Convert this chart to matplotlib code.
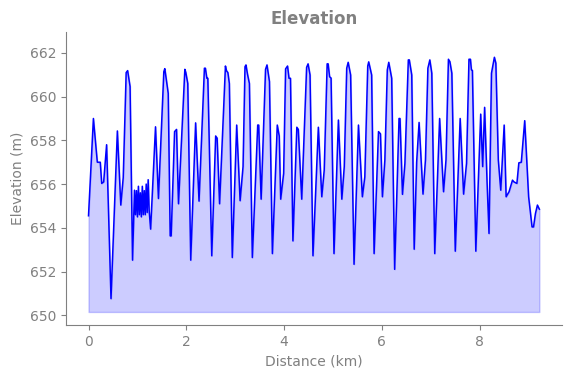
import matplotlib
matplotlib.use("Agg")
import matplotlib.pyplot as plt

# distance along the route (km) and elevation (m)
distance_km = [
    0.00, 0.10, 0.18, 0.24, 0.27, 0.31, 0.37, 0.46, 0.59, 0.66, 0.71, 0.77, 0.80, 0.85, 0.90, 0.94,
    0.96, 0.98, 1.00, 1.02, 1.04, 1.06, 1.08, 1.10, 1.12, 1.14, 1.16, 1.18, 1.20, 1.22, 1.24,
    1.27, 1.37, 1.43, 1.54, 1.56, 1.59, 1.63, 1.67, 1.69, 1.76, 1.80, 1.84, 1.97, 1.99, 2.03,
    2.09, 2.19, 2.26, 2.37, 2.39, 2.42, 2.44, 2.52, 2.60, 2.63, 2.68, 2.80, 2.82, 2.85, 2.88,
    2.94, 3.03, 3.10, 3.16, 3.20, 3.22, 3.25, 3.29, 3.35, 3.46, 3.48, 3.53, 3.62, 3.65, 3.70,
    3.76, 3.86, 3.90, 3.93, 3.99, 4.03, 4.07, 4.10, 4.13, 4.18, 4.26, 4.29, 4.36, 4.46, 4.49,
    4.53, 4.59, 4.70, 4.77, 4.82, 4.88, 4.90, 4.93, 4.96, 5.02, 5.11, 5.18, 5.23, 5.28, 5.31,
    5.36, 5.43, 5.52, 5.60, 5.65, 5.71, 5.73, 5.79, 5.84, 5.93, 5.97, 6.01, 6.06, 6.11, 6.14,
    6.20, 6.26, 6.35, 6.37, 6.42, 6.47, 6.54, 6.56, 6.61, 6.66, 6.71, 6.76, 6.84, 6.89, 6.94,
    6.98, 7.02, 7.08, 7.18, 7.26, 7.31, 7.36, 7.39, 7.43, 7.50, 7.60, 7.67, 7.73, 7.78, 7.81,
    7.83, 7.85, 7.92, 8.02, 8.06, 8.10, 8.15, 8.19, 8.24, 8.30, 8.33, 8.38, 8.43, 8.50, 8.54,
    8.60, 8.67, 8.70, 8.76, 8.80, 8.85, 8.92, 9.00, 9.07, 9.10, 9.14, 9.18, 9.22,
]
elevation_m = [
    654.55, 659.0, 657.0, 657.0, 656.03, 656.1, 657.8, 650.76, 658.43, 655.04, 656.3, 661.1, 661.19, 660.46, 652.52, 655.72,
    654.6, 655.7, 654.5, 655.9, 654.6, 655.6, 654.5, 655.9, 654.6, 655.7, 654.6, 656.0, 654.7, 656.2, 654.8,
    653.94, 658.62, 655.34, 661.14, 661.28, 660.8, 660.15, 653.63, 653.63, 658.4, 658.5, 655.1, 661.25, 661.1, 660.6,
    652.52, 658.8, 655.22, 661.3, 661.3, 660.84, 660.84, 652.72, 658.2, 658.1, 655.1, 661.4, 661.19, 661.1, 660.6,
    652.64, 658.7, 655.24, 656.8, 661.37, 661.45, 661.04, 660.6, 652.64, 658.7, 658.7, 655.31, 661.25, 661.45, 660.69,
    652.82, 658.7, 658.2, 655.31, 656.49, 661.27, 661.4, 660.84, 660.84, 653.4, 658.6, 658.5, 655.31, 661.34, 661.5,
    660.99, 652.72, 658.6, 655.42, 656.64, 661.5, 661.5, 660.91, 660.85, 652.82, 658.93, 655.31, 656.8, 661.3, 661.57,
    660.99, 652.33, 658.7, 655.42, 656.33, 661.4, 661.59, 660.99, 652.82, 658.4, 658.3, 655.42, 657.1, 661.22, 661.57,
    660.84, 652.1, 659.0, 659.0, 655.53, 656.95, 661.68, 661.68, 660.99, 653.02, 657.0, 658.82, 655.54, 657.1, 661.3,
    661.68, 661.07, 652.82, 659.0, 655.65, 657.1, 661.71, 661.6, 661.07, 652.93, 659.0, 655.54, 656.95, 661.71, 661.71,
    661.22, 661.2, 652.93, 659.2, 656.8, 659.51, 656.1, 653.74, 661.07, 661.8, 661.53, 657.1, 655.72, 658.7, 655.42,
    655.65, 656.18, 656.1, 656.03, 656.97, 657.0, 658.9, 655.42, 654.04, 654.04, 654.66, 655.04, 654.85,
]
fill_base = 650.15

grey = "#808080"


def main():
    fig = plt.figure(figsize=(5.71, 3.78), dpi=100)
    ax = fig.add_axes([0.1156, 0.140, 0.8684, 0.775])

    ax.fill_between(distance_km, elevation_m, fill_base, color="blue", alpha=0.2)
    ax.plot(distance_km, elevation_m, color="blue", lw=1.1)

    ax.set_xlim(-0.46, 9.68)
    ax.set_ylim(649.55, 662.95)
    ax.set_xticks([0, 2, 4, 6, 8])
    ax.set_yticks([650, 652, 654, 656, 658, 660, 662])

    ax.set_title("Elevation", color=grey, fontweight="bold", fontsize=12)
    ax.set_xlabel("Distance (km)", color=grey, fontsize=10)
    ax.set_ylabel("Elevation (m)", color=grey, fontsize=10)

    for side in ("top", "right"):
        ax.spines[side].set_visible(False)
    for side in ("left", "bottom"):
        ax.spines[side].set_color(grey)
    ax.tick_params(colors=grey, labelcolor=grey, labelsize=10)

    fig.savefig("out.png", dpi=100)


if __name__ == "__main__":
    main()
